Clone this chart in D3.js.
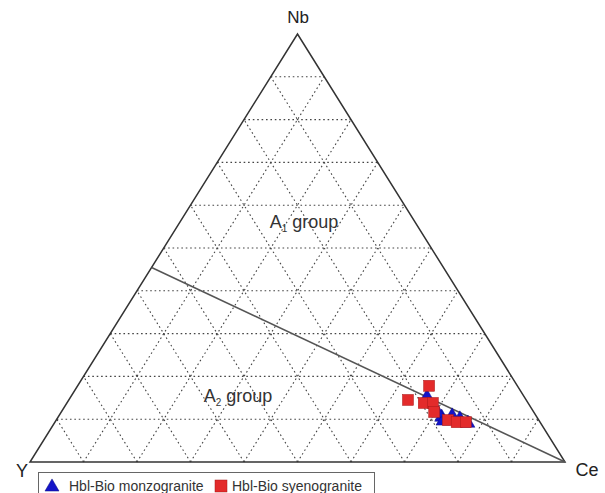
<!DOCTYPE html>
<html>
<head>
<meta charset="utf-8">
<script src="https://cdn.jsdelivr.net/npm/d3@7"></script>
<style>
  body { margin: 0; background: #fff; }
  svg { display: block; font-family: "Liberation Sans", Arial, sans-serif; }
</style>
</head>
<body>
<div id="chart"><svg></svg></div>
<script>
// ternary data, in percent (Nb, Y, Ce)
var monzoNb = [15.4, 10.7, 11.0, 10.3, 9.3, 9.8, 11.7];
var monzoY  = [18.1, 17.7, 15.6, 14.5, 13.5, 17.9, 17.9];
var monzoCe = [66.5, 71.6, 73.4, 75.2, 77.2, 72.3, 70.4];

var syenoNb = [17.8, 14.5, 13.8, 13.8, 11.7, 9.8, 9.3, 9.3];
var syenoY  = [16.5, 22.1, 19.5, 17.8, 18.6, 17.0, 15.6, 13.9];
var syenoCe = [65.7, 63.4, 66.7, 68.4, 69.7, 73.2, 75.1, 76.8];

// A1 / A2 divide: from Ce apex to Y/Nb = 1.2 on the Y-Nb side
var divideFrom = [45.45, 54.55, 0];
var divideTo   = [0, 0, 100];

var gridSteps = [10, 20, 30, 40, 50, 60, 70, 80, 90];
var seriesNames = ["Hbl-Bio monzogranite", "Hbl-Bio syenogranite"];

var width = 605, height = 493;
var svg = d3.select("#chart svg").attr("width", width).attr("height", height);

// x follows Ce + Nb/2, y follows Nb
var x = d3.scaleLinear().domain([0, 100]).range([30, 565]);
var y = d3.scaleLinear().domain([0, 100]).range([462, 34]);

function pt(nb, yy, ce) {
  var s = nb + yy + ce;
  nb = nb * 100 / s; ce = ce * 100 / s;
  return [x(ce + nb / 2), y(nb)];
}

var line = d3.line();

// dotted grid
var grid = svg.append("g")
  .attr("fill", "none")
  .attr("stroke", "#444")
  .attr("stroke-width", 1.1)
  .attr("stroke-dasharray", "1.6,2.8");

gridSteps.forEach(function(v) {
  // constant Nb
  grid.append("path").attr("d", line([pt(v, 100 - v, 0), pt(v, 0, 100 - v)]));
  // constant Y
  grid.append("path").attr("d", line([pt(0, v, 100 - v), pt(100 - v, v, 0)]));
  // constant Ce
  grid.append("path").attr("d", line([pt(0, 100 - v, v), pt(100 - v, 0, v)]));
});

// triangle outline
svg.append("path")
  .attr("d", line([pt(0, 100, 0), pt(0, 0, 100), pt(100, 0, 0)]) + "Z")
  .attr("fill", "none")
  .attr("stroke", "#333")
  .attr("stroke-width", 1.5)
  .attr("stroke-linejoin", "miter");

// divide line
svg.append("path")
  .attr("d", line([pt.apply(null, divideFrom), pt.apply(null, divideTo)]))
  .attr("fill", "none")
  .attr("stroke", "#555")
  .attr("stroke-width", 1.5);

// vertex labels
svg.append("text").attr("x", 298).attr("y", 23).attr("text-anchor", "middle")
  .attr("font-size", 17).attr("fill", "#222").text("Nb");
svg.append("text").attr("x", 22).attr("y", 477).attr("text-anchor", "middle")
  .attr("font-size", 18).attr("fill", "#222").text("Y");
svg.append("text").attr("x", 587).attr("y", 476).attr("text-anchor", "middle")
  .attr("font-size", 18).attr("fill", "#222").text("Ce");

// field labels
function fieldLabel(cx, cy, sub) {
  var t = svg.append("text").attr("x", cx).attr("y", cy).attr("text-anchor", "middle")
    .attr("font-size", 18).attr("fill", "#333");
  t.append("tspan").text("A");
  t.append("tspan").attr("font-size", 10).attr("dy", 4).text(sub);
  t.append("tspan").attr("dy", -4).text(" group");
}
fieldLabel(304, 228, "1");
fieldLabel(238, 402, "2");

// markers
var tri = d3.symbol().type(d3.symbolTriangle).size(85);

svg.append("g").selectAll("path")
  .data(monzoNb.map(function(d, i) { return pt(d, monzoY[i], monzoCe[i]); }))
  .join("path")
  .attr("d", tri)
  .attr("transform", function(d) { return "translate(" + d[0] + "," + (d[1] + 1) + ")"; })
  .attr("fill", "#1414c8")
  .attr("stroke", "#0a0a80")
  .attr("stroke-width", 0.5);

svg.append("g").selectAll("rect")
  .data(syenoNb.map(function(d, i) { return pt(d, syenoY[i], syenoCe[i]); }))
  .join("rect")
  .attr("x", function(d) { return d[0] - 5.5; })
  .attr("y", function(d) { return d[1] - 5.5; })
  .attr("width", 11).attr("height", 11)
  .attr("fill", "#e32b2b")
  .attr("stroke", "#a81818")
  .attr("stroke-width", 0.5);

// legend
var legend = svg.append("g");
legend.append("rect").attr("x", 38.5).attr("y", 472.5).attr("width", 336).attr("height", 30)
  .attr("fill", "#fff").attr("stroke", "#666").attr("stroke-width", 1);
legend.append("path").attr("d", tri).attr("transform", "translate(52,487)")
  .attr("fill", "#1414c8").attr("stroke", "#0a0a80").attr("stroke-width", 0.5);
legend.append("text").attr("x", 69).attr("y", 491).attr("font-size", 14).attr("fill", "#333")
  .text(seriesNames[0]);
legend.append("rect").attr("x", 215).attr("y", 480).attr("width", 12).attr("height", 12)
  .attr("fill", "#e32b2b").attr("stroke", "#a81818").attr("stroke-width", 0.5);
legend.append("text").attr("x", 232).attr("y", 491).attr("font-size", 14).attr("fill", "#333")
  .text(seriesNames[1]);
</script>
</body>
</html>
